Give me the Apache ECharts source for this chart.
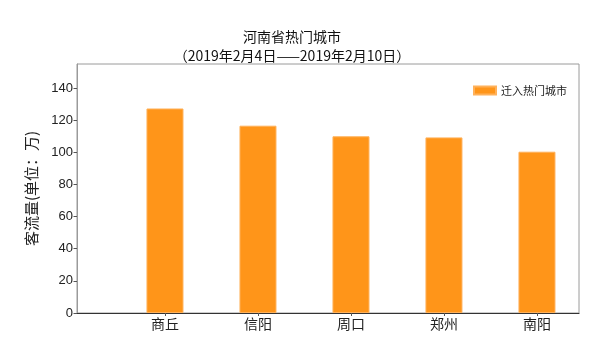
<!DOCTYPE html>
<html>
<head>
<meta charset="utf-8">
<script src="https://cdn.jsdelivr.net/npm/echarts@6/dist/echarts.min.js"></script>
<style>
  html, body { margin: 0; padding: 0; background: #fff; }
  #chart { width: 600px; height: 346px; }
</style>
</head>
<body>
<div id="chart"></div>
<script>
// Cities and inbound passenger flow (万人), 2019-02-04 to 2019-02-10
const cities = ['商丘', '信阳', '周口', '郑州', '南阳'];
const inflow = [127.3, 116.6, 110.0, 109.3, 100.4];
const yTicks = [0, 20, 40, 60, 80, 100, 120, 140];
const seriesName = '迁入热门城市';
const titleLines = ['河南省热门城市', '（2019年2月4日——2019年2月10日）'];
const yAxisName = '客流量(单位：万)';

const cjk = '"Noto Sans CJK SC", "Noto Sans", sans-serif';
const latin = '"Liberation Sans", Arial, sans-serif';

const chart = echarts.init(document.getElementById('chart'), null, { renderer: 'canvas' });

chart.setOption({
  animation: false,
  backgroundColor: '#ffffff',
  title: {
    text: titleLines.join('\n'),
    left: 287,
    top: 22,
    textAlign: 'center',
    textStyle: {
      fontFamily: cjk,
      fontSize: 14,
      fontWeight: 'normal',
      color: '#111',
      lineHeight: 19
    }
  },
  legend: {
    data: [seriesName],
    right: 28,
    top: 80,
    icon: 'rect',
    itemWidth: 22,
    itemHeight: 8,
    itemGap: 10,
    textStyle: { fontFamily: cjk, fontSize: 11, color: '#222' }
  },
  grid: {
    left: 77,
    right: 21,
    top: 64,
    bottom: 33,
    show: true,
    borderColor: '#9a9a9a',
    borderWidth: 1,
    containLabel: false
  },
  xAxis: {
    type: 'value',
    min: -0.946,
    max: 4.452,
    axisLine: { show: true, onZero: false, lineStyle: { color: '#333', width: 1.2 } },
    axisTick: {
      show: true,
      length: 3,
      customValues: cities.map((c, i) => i),
      lineStyle: { color: '#555' }
    },
    axisLabel: {
      customValues: cities.map((c, i) => i),
      formatter: v => cities[Math.round(v)] || '',
      fontFamily: cjk,
      fontSize: 14,
      color: '#222',
      margin: 4
    },
    splitLine: { show: false }
  },
  yAxis: {
    type: 'value',
    min: 0,
    max: 155,
    name: yAxisName,
    nameLocation: 'middle',
    nameGap: 38,
    nameTextStyle: { fontFamily: cjk, fontSize: 15, color: '#222' },
    axisLine: { show: true, onZero: false, lineStyle: { color: '#9a9a9a' } },
    axisTick: {
      show: true,
      length: 3.5,
      customValues: yTicks,
      lineStyle: { color: '#555' }
    },
    axisLabel: {
      customValues: yTicks,
      fontFamily: latin,
      fontSize: 13,
      color: '#222',
      margin: 4
    },
    splitLine: { show: false }
  },
  series: [{
    name: seriesName,
    type: 'bar',
    barWidth: 37,
    data: cities.map((c, i) => [i, inflow[i]]),
    itemStyle: {
      color: '#FF9519',
      borderColor: '#FFB15A',
      borderWidth: 1
    }
  }]
});
</script>
</body>
</html>
